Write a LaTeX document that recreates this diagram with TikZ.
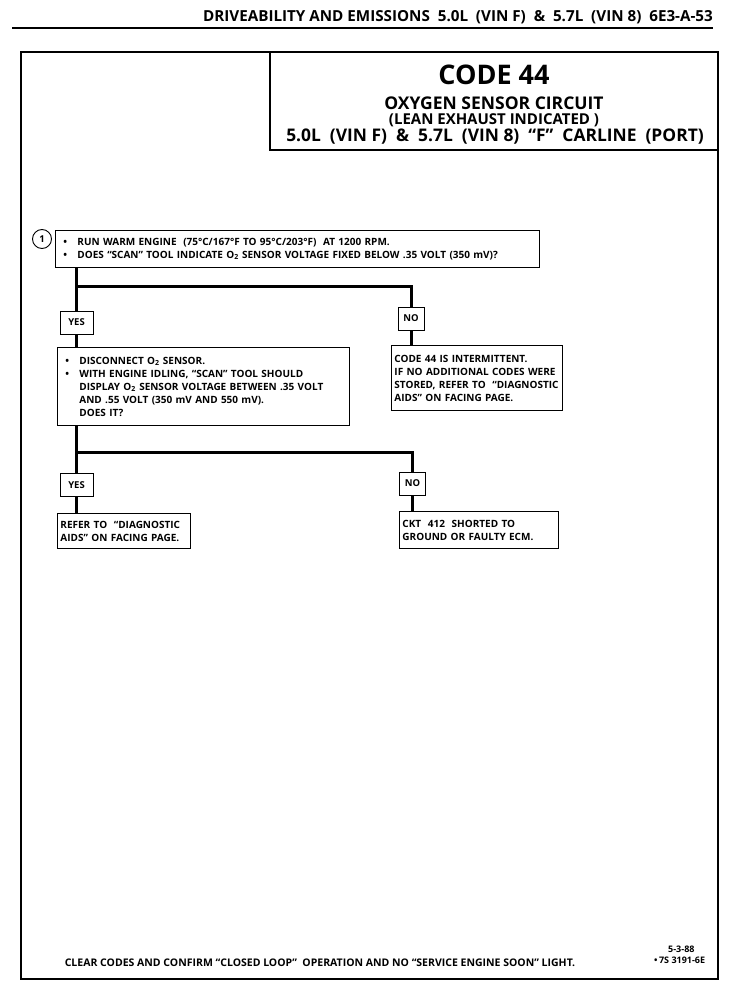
\documentclass[tikz,border=0pt]{standalone}
\usepackage{fontspec}
\setmainfont{Open Sans}
\usetikzlibrary{positioning,calc}
\newcommand{\bul}{\makebox[14pt][l]{\textbullet}}
\newcommand{\ind}{\hspace*{14pt}}
\newcommand{\Otwo}{O\textsubscript{2}}

\begin{document}
\begin{tikzpicture}[x=1pt,y=-1pt,
      stepbox/.style={draw,line width=0.9pt,anchor=north west,align=left,inner xsep=8pt,inner ysep=3pt,
        font=\fontsize{10}{13}\selectfont\bfseries},
      answer/.style={draw,line width=0.9pt,minimum height=23pt,minimum width=26pt,inner xsep=3pt,
        font=\fontsize{9.5}{11}\selectfont\bfseries},
      flow/.style={line width=3pt}]

    \useasboundingbox (0,0) rectangle (750,990);

    % page header
    \node[anchor=base east,inner sep=0pt,font=\fontsize{15.2}{17}\selectfont\bfseries] (head) at (713,22)
      {DRIVEABILITY AND EMISSIONS \ 5.0L \ (VIN F) \ \& \ 5.7L \ (VIN 8) \ 6E3-A-53};
    \draw[line width=1.8pt] (12,28) -- (713,28);

    % frame and title block
    \draw[line width=1.8pt] (21,52) rectangle (718,979);
    \draw[line width=1.3pt] (270,52) rectangle (718,150);
    \node[font=\fontsize{27}{29}\selectfont\bfseries] (code) at (494,75) {CODE 44};
    \node[font=\fontsize{17.5}{19}\selectfont\bfseries] (circ) at (494,103) {OXYGEN SENSOR CIRCUIT};
    \node[font=\fontsize{15}{16}\selectfont\bfseries] (lean) at (494,120) {(LEAN EXHAUST INDICATED )};
    \node[font=\fontsize{17.4}{19}\selectfont\bfseries] (car) at (495,137)
      {5.0L \ (VIN F) \ \& \ 5.7L \ (VIN 8) \ “F” \ CARLINE \ (PORT)};

    % step 1
    \node[draw,circle,line width=0.9pt,minimum size=19pt,inner sep=0pt,font=\fontsize{9.5}{10}\selectfont\bfseries]
      (num) at (42,239) {1};
    \node[stepbox,text width=468pt,minimum height=37pt] (q1) at (55,230)
      {\bul RUN WARM ENGINE \ (75°C/167°F TO 95°C/203°F) \ AT 1200 RPM.\\
       \bul DOES “SCAN” TOOL INDICATE \Otwo\ SENSOR VOLTAGE FIXED BELOW .35 VOLT (350 mV)?};

    \node[answer,minimum width=33pt] (yesA) at (76.5,322.5) {YES};
    \node[answer] (noA) at (411,318.5) {NO};

    \node[stepbox,text width=276pt,minimum height=78pt] (q2) at (57,347)
      {\bul DISCONNECT \Otwo\ SENSOR.\\
       \bul WITH ENGINE IDLING, “SCAN” TOOL SHOULD\\
       \ind DISPLAY \Otwo\ SENSOR VOLTAGE BETWEEN .35 VOLT\\
       \ind AND .55 VOLT (350 mV AND 550 mV).\\
       \ind DOES IT?};
    \node[stepbox,text width=165pt,inner xsep=3pt,minimum height=65pt] (resA) at (391,345)
      {CODE 44 IS INTERMITTENT.\\
       IF NO ADDITIONAL CODES WERE\\
       STORED, REFER TO \ “DIAGNOSTIC\\
       AIDS” ON FACING PAGE.};

    % step 2
    \node[answer,minimum width=33pt] (yesB) at (76.5,485) {YES};
    \node[answer] (noB) at (412.5,483.5) {NO};

    \node[stepbox,text width=127pt,inner xsep=3pt,minimum height=35pt] (resB) at (57,513)
      {REFER TO \ “DIAGNOSTIC\\
       AIDS” ON FACING PAGE.};
    \node[stepbox,text width=153pt,inner xsep=3pt,minimum height=37pt] (resC) at (399,511)
      {CKT \ 412 \ SHORTED TO\\
       GROUND OR FAULTY ECM.};

    % connectors
    \coordinate (jA) at (76.5,286);
    \coordinate (jB) at (76.5,452);
    \draw[flow] (yesA |- q1.south) -- (yesA.north);
    \draw[flow] (jA) -| (noA.north);
    \draw[flow] (yesA.south) -- (yesA |- q2.north);
    \draw[flow] (noA.south) -- (noA |- resA.north);
    \draw[flow] (yesB |- q2.south) -- (yesB.north);
    \draw[flow] (jB) -| (noB.north);
    \draw[flow] (yesB.south) -- (yesB |- resB.north);
    \draw[flow] (noB.south) -- (noB |- resC.north);

    % footer
    \node[anchor=base,font=\fontsize{10.5}{11}\selectfont\bfseries] (clear) at (320,966)
      {CLEAR CODES AND CONFIRM “CLOSED LOOP” \ OPERATION AND NO “SERVICE ENGINE SOON” LIGHT.};
    \node[anchor=north west,align=left,inner sep=0pt,font=\fontsize{9}{11}\selectfont\bfseries] (date) at (654,946)
      {\hspace*{14pt}5-3-88\\\textbullet\,7S 3191-6E};
  \end{tikzpicture}
\end{document}
